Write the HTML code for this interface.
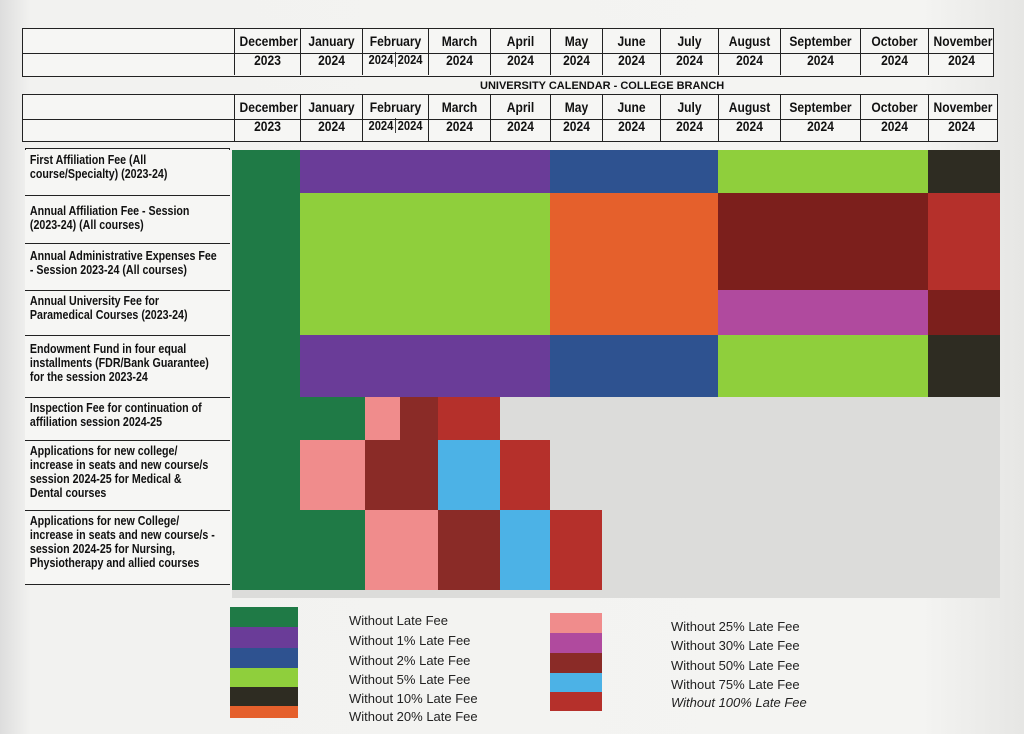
<!DOCTYPE html>
<html><head><meta charset="utf-8"><style>
body{margin:0;width:1024px;height:734px;background:#efefed;position:relative;overflow:hidden;font-family:"Liberation Sans",sans-serif;}
.a{position:absolute}
.hd{position:absolute;border:1.5px solid #222;background:#f6f6f4}
.c{position:absolute;border-left:1.5px solid #222;text-align:center;font-weight:bold;font-size:14px;color:#111;box-sizing:border-box}
.c div{transform:scaleX(0.86);white-space:nowrap}
.lab{position:absolute;left:25px;width:205px;border-top:1.5px solid #222;box-sizing:border-box;background:#f6f6f4;overflow:hidden}
.lab div{font-weight:bold;font-size:13px;line-height:14px;color:#111;width:240px;padding:3px 6px;box-sizing:border-box;transform:scaleX(0.82);transform-origin:0 0}
.lt{position:absolute;font-size:13px;color:#222}
</style></head><body>
<div class="a" style="left:0;top:0;width:1024px;height:734px;background:linear-gradient(90deg,#ddd 0,#f2f2f0 3%,#f4f4f2 90%,#e6e6e4 100%)"></div>

<div class="hd" style="left:22px;top:28px;width:970px;height:47px"></div>
<div class="a" style="left:22px;top:53px;width:972px;border-top:1.5px solid #222"></div>
<div class="hd" style="left:22px;top:94px;width:974px;height:46px"></div>
<div class="a" style="left:22px;top:119px;width:976px;border-top:1.5px solid #222"></div>
<div class="a" style="left:480px;top:80px;font-size:11px;font-weight:bold;color:#111">UNIVERSITY CALENDAR - COLLEGE BRANCH</div>

<div id="cols"></div>
<script>
var cols=[[234,300,"December","2023"],[300,362,"January","2024"],[362,428,"February",""],[428,490,"March","2024"],[490,550,"April","2024"],[550,602,"May","2024"],[602,660,"June","2024"],[660,718,"July","2024"],[718,780,"August","2024"],[780,860,"September","2024"],[860,928,"October","2024"],[928,994,"November","2024"]];
var h="";
[[28,34],[94,100]].forEach(function(t){
cols.forEach(function(c){
h+='<div class="c" style="left:'+c[0]+'px;top:'+t[0]+'px;width:'+(c[1]-c[0])+'px;height:47px"><div style="margin-top:'+(t[1]-t[0]-1)+'px">'+c[2]+'</div>';
if(c[3])h+='<div style="margin-top:3px">'+c[3]+'</div>';
else h+='<div style="margin-top:3px;font-size:13px">2024<span style="border-left:1.5px solid #222;margin-left:2px;padding-left:2px">2024</span></div>';
h+='</div>';});});
document.getElementById('cols').innerHTML=h;
</script>

<div class="a" style="left:232px;top:150px;width:768px;height:448px;background:#dcdcda"></div>
<div id="blk"></div>
<script>
var G="#1f7a46",P="#6a3c98",B="#2e5290",L="#8fcf3c",D="#2e2c22",O="#e5602c",R2="#7c1f1c",R="#b5302b",M="#b04a9e",K="#f08c8c",MR="#8a2b27",C="#4cb2e6";
var b=[[232,300,150,590,G],
[300,550,150,193,P],[550,718,150,193,B],[718,928,150,193,L],[928,1000,150,193,D],
[300,550,193,335,L],[550,718,193,335,O],[718,928,193,290,R2],[718,928,290,335,M],[928,1000,193,290,R],[928,1000,290,335,R2],
[300,550,335,397,P],[550,718,335,397,B],[718,928,335,397,L],[928,1000,335,397,D],
[300,365,397,440,G],[365,400,397,440,K],[400,438,397,440,MR],[438,500,397,440,R],
[300,365,440,510,K],[365,438,440,510,MR],[438,500,440,510,C],[500,550,440,510,R],
[300,365,510,590,G],[365,438,510,590,K],[438,500,510,590,MR],[500,550,510,590,C],[550,602,510,590,R]];
var s="";b.forEach(function(x){s+='<div class="a" style="left:'+x[0]+'px;top:'+x[2]+'px;width:'+(x[1]-x[0])+'px;height:'+(x[3]-x[2])+'px;background:'+x[4]+'"></div>';});
document.getElementById('blk').innerHTML=s;
</script>

<div class="a" style="left:25px;top:148px;width:205px;height:437px;border:1.5px solid #222;background:#f6f6f4;box-sizing:border-box"></div>
<div class="lab" style="top:150px;height:45px;border-top:none"><div>First Affiliation Fee (All course/Specialty) (2023-24)</div></div>
<div class="lab" style="top:195px;height:48px"><div style="padding-top:8px">Annual Affiliation Fee - Session (2023-24) (All courses)</div></div>
<div class="lab" style="top:243px;height:47px"><div style="padding-top:5px">Annual Administrative Expenses Fee - Session 2023-24 (All courses)</div></div>
<div class="lab" style="top:290px;height:45px"><div>Annual University Fee for Paramedical Courses (2023-24)</div></div>
<div class="lab" style="top:335px;height:62px"><div style="padding-top:6px">Endowment Fund in four equal installments (FDR/Bank Guarantee) for the session 2023-24</div></div>
<div class="lab" style="top:397px;height:43px"><div>Inspection Fee for continuation of affiliation session 2024-25</div></div>
<div class="lab" style="top:440px;height:70px"><div>Applications for new college/ increase in seats and new course/s session 2024-25 for Medical &amp; Dental courses</div></div>
<div class="lab" style="top:510px;height:74px"><div>Applications for new College/ increase in seats and new course/s -session 2024-25 for Nursing, Physiotherapy and allied courses</div></div>

<div class="a" style="left:230px;top:607px;width:68px;height:20px;background:#1f7a46"></div>
<div class="a" style="left:230px;top:627px;width:68px;height:21px;background:#6a3c98"></div>
<div class="a" style="left:230px;top:648px;width:68px;height:20px;background:#2e5290"></div>
<div class="a" style="left:230px;top:668px;width:68px;height:19px;background:#8fcf3c"></div>
<div class="a" style="left:230px;top:687px;width:68px;height:19px;background:#2e2c22"></div>
<div class="a" style="left:230px;top:706px;width:68px;height:12px;background:#e5602c"></div>
<div class="lt" style="left:349px;top:613px">Without Late Fee</div>
<div class="lt" style="left:349px;top:633px">Without 1% Late Fee</div>
<div class="lt" style="left:349px;top:653px">Without 2% Late Fee</div>
<div class="lt" style="left:349px;top:672px">Without 5% Late Fee</div>
<div class="lt" style="left:349px;top:691px">Without 10% Late Fee</div>
<div class="lt" style="left:349px;top:709px">Without 20% Late Fee</div>
<div class="a" style="left:550px;top:613px;width:52px;height:20px;background:#f08c8c"></div>
<div class="a" style="left:550px;top:633px;width:52px;height:20px;background:#b04a9e"></div>
<div class="a" style="left:550px;top:653px;width:52px;height:20px;background:#8a2b27"></div>
<div class="a" style="left:550px;top:673px;width:52px;height:19px;background:#4cb2e6"></div>
<div class="a" style="left:550px;top:692px;width:52px;height:19px;background:#b5302b"></div>
<div class="lt" style="left:671px;top:619px">Without 25% Late Fee</div>
<div class="lt" style="left:671px;top:638px">Without 30% Late Fee</div>
<div class="lt" style="left:671px;top:658px">Without 50% Late Fee</div>
<div class="lt" style="left:671px;top:677px">Without 75% Late Fee</div>
<div class="lt" style="left:671px;top:695px;font-style:italic">Without 100% Late Fee</div>
</body></html>
